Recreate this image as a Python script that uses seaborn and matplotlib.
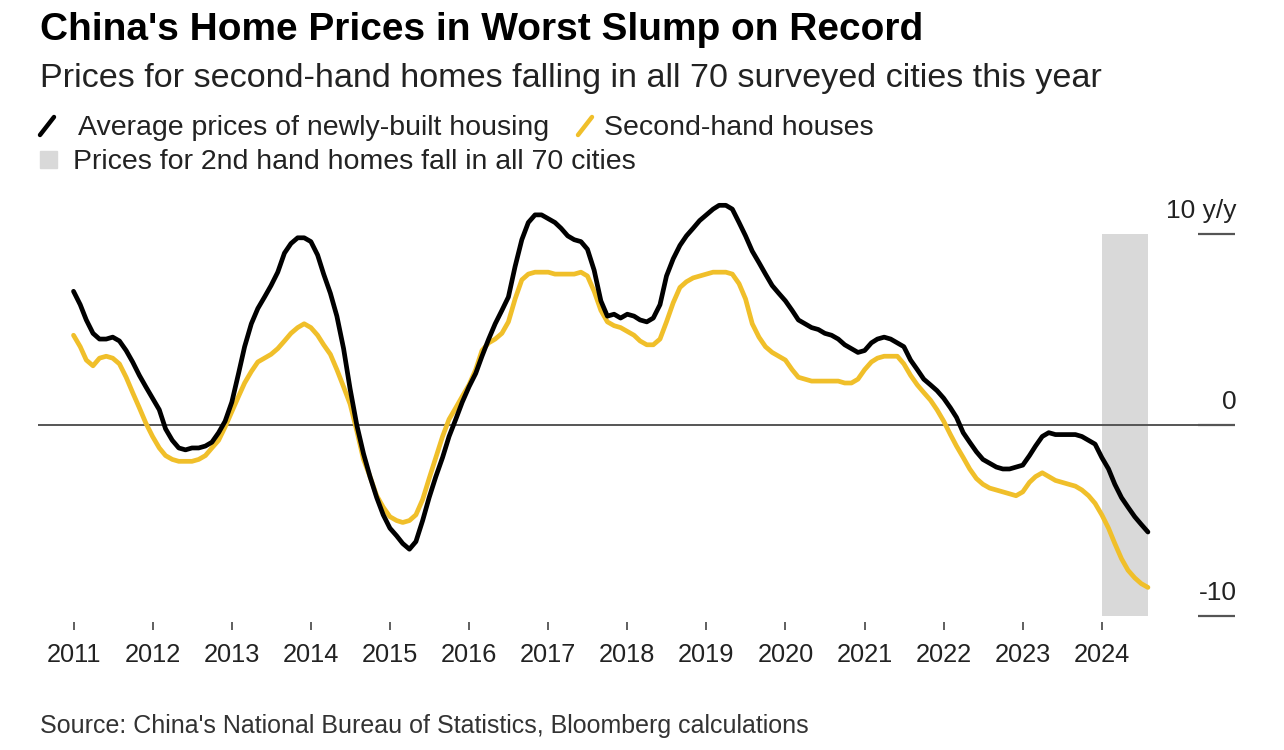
import pandas as pd
import numpy as np
import seaborn as sns
import matplotlib.pyplot as plt
from matplotlib.lines import Line2D
from matplotlib.patches import Rectangle

# monthly y/y change (%), Jan 2011 - Aug 2024
new_homes = [
    7.0, 6.3, 5.5, 4.8, 4.5, 4.5, 4.6, 4.4, 3.9, 3.3, 2.6, 2.0,
    1.4, 0.8, -0.2, -0.8, -1.2, -1.3, -1.2, -1.2, -1.1, -0.9, -0.4, 0.2,
    1.2, 2.7, 4.1, 5.3, 6.1, 6.7, 7.3, 8.0, 9.0, 9.5, 9.8, 9.8,
    9.6, 8.9, 7.9, 6.9, 5.7, 4.0, 1.9, 0.0, -1.5, -2.7, -3.8, -4.7,
    -5.4, -5.8, -6.2, -6.5, -6.1, -5.0, -3.8, -2.7, -1.7, -0.6, 0.3, 1.2,
    2.0, 2.7, 3.6, 4.5, 5.3, 6.0, 6.7, 8.3, 9.7, 10.6, 11.0, 11.0,
    10.8, 10.6, 10.3, 9.9, 9.7, 9.6, 9.2, 8.1, 6.5, 5.7, 5.8, 5.6,
    5.8, 5.7, 5.5, 5.4, 5.6, 6.3, 7.8, 8.7, 9.4, 9.9, 10.3, 10.7,
    11.0, 11.3, 11.5, 11.5, 11.3, 10.6, 9.9, 9.1, 8.5, 7.9, 7.3, 6.9,
    6.5, 6.0, 5.5, 5.3, 5.1, 5.0, 4.8, 4.7, 4.5, 4.2, 4.0, 3.8,
    3.9, 4.3, 4.5, 4.6, 4.5, 4.3, 4.1, 3.4, 2.9, 2.4, 2.1, 1.8,
    1.4, 0.9, 0.4, -0.4, -0.9, -1.4, -1.8, -2.0, -2.2, -2.3, -2.3, -2.2,
    -2.1, -1.6, -1.1, -0.6, -0.4, -0.5, -0.5, -0.5, -0.5, -0.6, -0.8, -1.0,
    -1.7, -2.3, -3.1, -3.8, -4.3, -4.8, -5.2, -5.6,
]
second_hand = [
    4.7, 4.1, 3.4, 3.1, 3.5, 3.6, 3.5, 3.2, 2.5, 1.7, 0.9, 0.1,
    -0.6, -1.2, -1.6, -1.8, -1.9, -1.9, -1.9, -1.8, -1.6, -1.2, -0.8, -0.1,
    0.7, 1.5, 2.2, 2.8, 3.3, 3.5, 3.7, 4.0, 4.4, 4.8, 5.1, 5.3,
    5.1, 4.7, 4.2, 3.7, 2.9, 2.0, 1.1, -0.3, -1.8, -2.7, -3.7, -4.3,
    -4.8, -5.0, -5.1, -5.0, -4.7, -3.9, -2.8, -1.7, -0.6, 0.3, 0.9, 1.5,
    2.1, 2.9, 3.9, 4.3, 4.5, 4.8, 5.4, 6.6, 7.6, 7.9, 8.0, 8.0,
    8.0, 7.9, 7.9, 7.9, 7.9, 8.0, 7.8, 7.0, 6.0, 5.4, 5.2, 5.1,
    4.9, 4.7, 4.4, 4.2, 4.2, 4.5, 5.4, 6.4, 7.2, 7.5, 7.7, 7.8,
    7.9, 8.0, 8.0, 8.0, 7.9, 7.4, 6.6, 5.3, 4.6, 4.1, 3.8, 3.6,
    3.4, 2.9, 2.5, 2.4, 2.3, 2.3, 2.3, 2.3, 2.3, 2.2, 2.2, 2.4,
    2.9, 3.3, 3.5, 3.6, 3.6, 3.6, 3.2, 2.6, 2.1, 1.7, 1.3, 0.8,
    0.2, -0.5, -1.1, -1.7, -2.3, -2.8, -3.1, -3.3, -3.4, -3.5, -3.6, -3.7,
    -3.5, -3.0, -2.7, -2.5, -2.7, -2.9, -3.0, -3.1, -3.2, -3.4, -3.7, -4.1,
    -4.7, -5.4, -6.2, -7.0, -7.6, -8.0, -8.3, -8.5,
]
months = pd.date_range("2011-01-01", periods=len(new_homes), freq="MS")
years = list(range(2011, 2025))
shade_start, shade_end = pd.Timestamp("2024-01-01"), pd.Timestamp("2024-08-01")
y_ticks = [10, 0, -10]
y_labels = ["10 y/y", "0", "-10"]

BLACK = "#000000"
YELLOW = "#f0bf2a"
GREY = "#d9d9d9"
TXT = "#222222"

df = pd.DataFrame({"date": months, "new": new_homes, "second": second_hand})

sns.set_theme(style="white")
plt.rcParams["font.family"] = ["Liberation Sans", "DejaVu Sans"]

fig = plt.figure(figsize=(12.84, 7.5), dpi=100)
ax = fig.add_axes([38 / 1284, 1 - 622 / 750, (1235 - 38) / 1284, (622 - 195) / 750])

ax.fill_between([shade_start, shade_end], -10, 10, color=GREY, lw=0, zorder=0)
ax.axhline(0, color="#555555", lw=1.4, zorder=1)
sns.lineplot(data=df, x="date", y="second", color=YELLOW, lw=3.4, ax=ax, zorder=3)
sns.lineplot(data=df, x="date", y="new", color=BLACK, lw=3.4, ax=ax, zorder=4)

ax.set_xlim(pd.Timestamp("2010-07-21"), pd.Timestamp("2025-09-07"))
ax.set_ylim(-10.31, 12.04)
ax.set_xlabel("")
ax.set_ylabel("")
for s in ax.spines.values():
    s.set_visible(False)

ax.set_xticks([pd.Timestamp(f"{y}-01-01") for y in years])
ax.set_xticklabels([str(y) for y in years])
ax.tick_params(axis="x", direction="out", length=6, width=1.2, color="#444444",
               labelsize=18.3, labelcolor=TXT, pad=9, bottom=True)

# right-hand value ticks drawn as short dashes with the label above
ax.yaxis.tick_right()
ax.set_yticks(y_ticks)
ax.set_yticklabels([])
ax.tick_params(axis="y", direction="in", length=27, width=1.6, color="#555555", right=True)
for v, lab in zip(y_ticks, y_labels):
    ax.annotate(lab, xy=(1.0, v), xycoords=ax.get_yaxis_transform(),
                xytext=(1, 8), textcoords="offset points",
                ha="right", va="bottom", fontsize=19, color=TXT)

fig.text(40 / 1284, 1 - 40 / 750, "China's Home Prices in Worst Slump on Record",
         fontsize=28, fontweight="bold", color="#000000", va="baseline")
fig.text(40 / 1284, 1 - 87 / 750,
         "Prices for second-hand homes falling in all 70 surveyed cities this year",
         fontsize=24.6, color=TXT, va="baseline")

# legend
fig.add_artist(Line2D([40 / 1284, 54 / 1284], [1 - 135 / 750, 1 - 117 / 750],
                      color=BLACK, lw=3.2, transform=fig.transFigure))
fig.text(78 / 1284, 1 - 135 / 750, "Average prices of newly-built housing",
         fontsize=20.5, color=TXT, va="baseline")
fig.add_artist(Line2D([578 / 1284, 592 / 1284], [1 - 135 / 750, 1 - 117 / 750],
                      color=YELLOW, lw=3.2, transform=fig.transFigure))
fig.text(604 / 1284, 1 - 135 / 750, "Second-hand houses",
         fontsize=20.5, color=TXT, va="baseline")
fig.add_artist(Rectangle((40 / 1284, 1 - 168 / 750), 17 / 1284, 17 / 750,
                         color=GREY, transform=fig.transFigure))
fig.text(73 / 1284, 1 - 169 / 750, "Prices for 2nd hand homes fall in all 70 cities",
         fontsize=20.5, color=TXT, va="baseline")

fig.text(40 / 1284, 1 - 733 / 750,
         "Source: China's National Bureau of Statistics, Bloomberg calculations",
         fontsize=18, color="#333333", va="baseline")

fig.savefig("out.png", dpi=100, facecolor="white")
